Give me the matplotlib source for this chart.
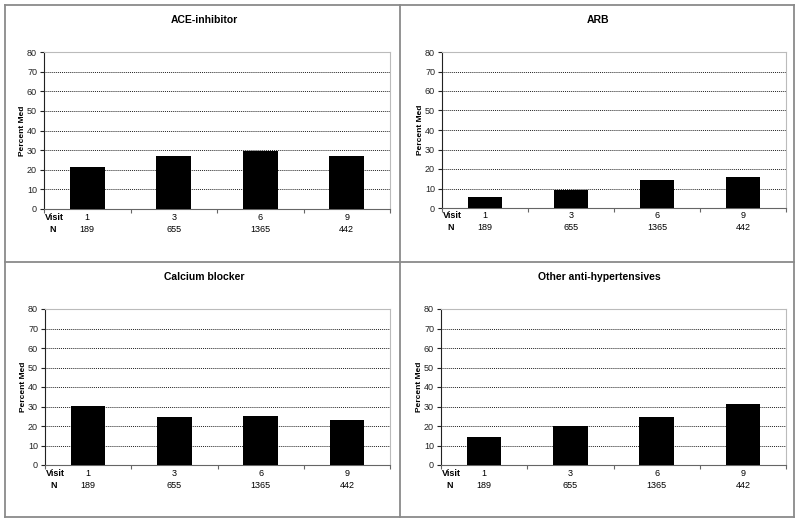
import matplotlib
matplotlib.use("Agg")
import matplotlib.pyplot as plt
import matplotlib.transforms as mtrans
from matplotlib.lines import Line2D

plt.rcParams['font.family'] = ['Liberation Sans', 'DejaVu Sans']

titles = ["ACE-inhibitor", "ARB", "Calcium blocker", "Other anti-hypertensives"]
visits = ["1", "3", "6", "9"]
n_values = ["189", "655", "1365", "442"]
ace = [21.2, 27.1, 29.3, 27.1]
arb = [5.8, 9.2, 14.2, 16.0]
calcium = [30.1, 24.4, 24.9, 22.9]
other = [14.4, 19.8, 24.6, 31.4]
series = [ace, arb, calcium, other]

W, H = 800, 523
fig = plt.figure(figsize=(W / 100, H / 100), dpi=100)

def fx(x):
    return x / W

def fy(y):
    return 1 - y / H

# panel borders
bc = "#8a8a8a"
for (x0, y0, x1, y1) in [(5, 5, 794, 5), (5, 517, 794, 517), (5, 5, 5, 517), (794, 5, 794, 517),
                         (400, 5, 400, 517), (5, 262, 794, 262)]:
    fig.add_artist(Line2D([fx(x0), fx(x1)], [fy(y0), fy(y1)], color=bc, lw=1.3))

# axes pixel boxes: left, right, top, bottom
boxes = [(44, 390, 52, 209), (442, 786, 52, 208), (45, 390, 309, 465), (441, 786, 309, 465)]
title_pos = [(204, 20), (598, 20), (204, 277), (599, 277)]

for k, (l, r, t, b) in enumerate(boxes):
    ax = fig.add_axes([fx(l), fy(b), fx(r) - fx(l), fy(t) - fy(b)])
    xs = list(range(len(visits)))
    ax.bar(xs, series[k], width=0.4, color="black", zorder=3)
    ax.set_xlim(-0.5, len(visits) - 0.5)
    ax.set_ylim(0, 80)
    ax.set_yticks(range(0, 81, 10))
    ax.tick_params(axis='y', labelsize=6.5, length=3, width=0.8, pad=2, colors="#222222")
    ax.set_xticks([i + 0.5 for i in range(-1, len(visits))])
    ax.set_xticklabels([])
    ax.tick_params(axis='x', length=3, width=0.8, colors="#666666")
    for yv in range(10, 80, 10):
        ax.axhline(yv, color="#222222", lw=0.7, ls=(0, (1.0, 1.0)), zorder=1)
    ax.spines['left'].set_color("#222222")
    ax.spines['bottom'].set_color("#666666")
    ax.spines['top'].set_color("#bbbbbb")
    ax.spines['right'].set_color("#bbbbbb")
    ax.spines['left'].set_linewidth(0.8)
    ax.set_ylabel("Percent Med", fontsize=6, fontweight='bold', labelpad=1)
    # title
    fig.text(fx(title_pos[k][0]), fy(title_pos[k][1]), titles[k], ha='center', va='center',
             fontsize=7.5, fontweight='bold')
    # Visit / N rows
    fig.text(fx(l + 10), fy(b + 8), "Visit", ha='center', va='center', fontsize=6.5, fontweight='bold')
    fig.text(fx(l + 9), fy(b + 20), "N", ha='center', va='center', fontsize=6.5, fontweight='bold')
    for i in range(len(visits)):
        ax.text(i, 0, visits[i], ha='center', va='center', fontsize=6.5,
                transform=ax.get_xaxis_transform() + mtrans.ScaledTranslation(0, -8 / 100, fig.dpi_scale_trans))
        ax.text(i, 0, n_values[i], ha='center', va='center', fontsize=6.5,
                transform=ax.get_xaxis_transform() + mtrans.ScaledTranslation(0, -20 / 100, fig.dpi_scale_trans))

fig.savefig("out.png", dpi=100)
